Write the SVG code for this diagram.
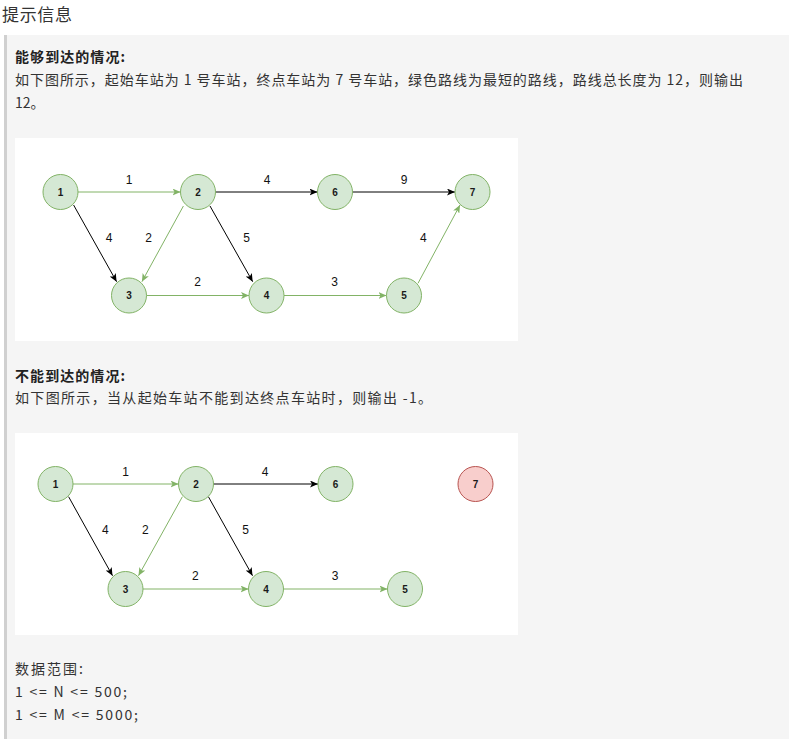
<svg xmlns="http://www.w3.org/2000/svg" width="789" height="739" viewBox="0 0 789 739">
<style>
.txt{font-family:"Noto Sans CJK SC","Liberation Sans",sans-serif;font-size:14px;fill:#333}
.bold{font-weight:bold;fill:#222}
.title{font-family:"Noto Sans CJK SC","Liberation Sans",sans-serif;font-size:17px;fill:#333}
.node circle{fill:#d5e8d4;stroke:#82b366;stroke-width:1}
.node.red circle{fill:#f8cecc;stroke:#b85450}
.node text{font-family:"Liberation Sans",Arial,sans-serif;font-size:10px;fill:#1a1a1a;text-anchor:middle;font-weight:bold}
.g{stroke:#82b366;stroke-width:1;fill:none;marker-end:url(#ag)}
.k{stroke:#000;stroke-width:1;fill:none;marker-end:url(#ak)}
.lbl{font-family:"Liberation Sans",Arial,sans-serif;font-size:12px;fill:#111;text-anchor:middle}
</style>
<defs>
<marker id="ag" viewBox="0 0 8 7" markerWidth="8" markerHeight="7" refX="8" refY="3.5" orient="auto" markerUnits="userSpaceOnUse"><path d="M0,0 L8,3.5 L0,7 L2,3.5 Z" fill="#82b366"/></marker>
<marker id="ak" viewBox="0 0 8 7" markerWidth="8" markerHeight="7" refX="8" refY="3.5" orient="auto" markerUnits="userSpaceOnUse"><path d="M0,0 L8,3.5 L0,7 L2,3.5 Z" fill="#000"/></marker>
</defs>
<rect x="0" y="0" width="789" height="739" fill="#fff"/>
<text class="title" x="2" y="21" textLength="70">提示信息</text>
<rect x="4" y="35" width="785" height="704" fill="#f5f5f5"/>
<rect x="4" y="35" width="3" height="704" fill="#d0d0d0"/>

<g id="text1">
<text class="txt bold" x="15" y="62" textLength="110">能够到达的情况:</text>
<text class="txt" x="15" y="85" textLength="728">如下图所示，起始车站为 1 号车站，终点车站为 7 号车站，绿色路线为最短的路线，路线总长度为 12，则输出</text>
<text class="txt" x="15" y="108">12。</text>
</g>

<rect x="15" y="138" width="503" height="203" fill="#fff"/>
<g id="connectors1">
<path class="g" d="M78,192 L180.5,192"/>
<path class="k" d="M215.5,192 L317.5,192"/>
<path class="k" d="M352.5,192 L455,192"/>
<path class="g" d="M146.5,295.5 L249,295.5"/>
<path class="g" d="M284,295.5 L386.5,295.5"/>
<path class="k" d="M73.6,205 L116.6,281.7"/>
<path class="g" d="M183.4,206 L141.9,281.7"/>
<path class="k" d="M210,206 L252.7,281.7"/>
<path class="g" d="M418,283.3 L460,205"/>
<text class="lbl" x="129" y="183.5">1</text>
<text class="lbl" x="267" y="183.5">4</text>
<text class="lbl" x="404" y="183.5">9</text>
<text class="lbl" x="109" y="241.5">4</text>
<text class="lbl" x="148.6" y="241.5">2</text>
<text class="lbl" x="246.6" y="241.5">5</text>
<text class="lbl" x="423.3" y="241.5">4</text>
<text class="lbl" x="197.6" y="286">2</text>
<text class="lbl" x="334.5" y="286">3</text>
</g>
<g id="d1-n1" class="node"><circle cx="60.5" cy="192" r="17.5"/><text x="60.5" y="195.6">1</text></g>
<g id="d1-n2" class="node"><circle cx="198" cy="192" r="17.5"/><text x="198" y="195.6">2</text></g>
<g id="d1-n6" class="node"><circle cx="335" cy="192" r="17.5"/><text x="335" y="195.6">6</text></g>
<g id="d1-n7" class="node"><circle cx="472.5" cy="192" r="17.5"/><text x="472.5" y="195.6">7</text></g>
<g id="d1-n3" class="node"><circle cx="129" cy="295.5" r="17.5"/><text x="129" y="299.1">3</text></g>
<g id="d1-n4" class="node"><circle cx="266.5" cy="295.5" r="17.5"/><text x="266.5" y="299.1">4</text></g>
<g id="d1-n5" class="node"><circle cx="404" cy="295.5" r="17.5"/><text x="404" y="299.1">5</text></g>

<g id="text2">
<text class="txt bold" x="15" y="381" textLength="110">不能到达的情况:</text>
<text class="txt" x="15" y="403" textLength="417">如下图所示，当从起始车站不能到达终点车站时，则输出 -1。</text>
</g>

<rect x="15" y="433" width="503" height="202" fill="#fff"/>
<g id="connectors2">
<path class="g" d="M73,484 L178.5,484"/>
<path class="k" d="M213.5,484 L318,484"/>
<path class="g" d="M143,589 L248.5,589"/>
<path class="g" d="M283.5,589 L387.5,589"/>
<path class="k" d="M68.6,496.7 L112.5,575.7"/>
<path class="g" d="M182.4,496.7 L138.5,575.7"/>
<path class="k" d="M208.4,496.7 L252.5,575.7"/>
<text class="lbl" x="125.7" y="476">1</text>
<text class="lbl" x="265" y="476">4</text>
<text class="lbl" x="105.4" y="533.5">4</text>
<text class="lbl" x="145.3" y="533.5">2</text>
<text class="lbl" x="245.6" y="533.5">5</text>
<text class="lbl" x="195.3" y="580">2</text>
<text class="lbl" x="335" y="580">3</text>
</g>
<g id="d2-n1" class="node"><circle cx="55.5" cy="484" r="17.5"/><text x="55.5" y="487.6">1</text></g>
<g id="d2-n2" class="node"><circle cx="196" cy="484" r="17.5"/><text x="196" y="487.6">2</text></g>
<g id="d2-n6" class="node"><circle cx="335.5" cy="484" r="17.5"/><text x="335.5" y="487.6">6</text></g>
<g id="d2-n7" class="node red"><circle cx="475.5" cy="484" r="17.5"/><text x="475.5" y="487.6">7</text></g>
<g id="d2-n3" class="node"><circle cx="125.5" cy="589" r="17.5"/><text x="125.5" y="592.6">3</text></g>
<g id="d2-n4" class="node"><circle cx="266" cy="589" r="17.5"/><text x="266" y="592.6">4</text></g>
<g id="d2-n5" class="node"><circle cx="405" cy="589" r="17.5"/><text x="405" y="592.6">5</text></g>

<g id="text3">
<text class="txt" x="15" y="674" textLength="68">数据范围:</text>
<text class="txt" x="15" y="697" textLength="112">1 &lt;= N &lt;= 500;</text>
<text class="txt" x="15" y="720" textLength="123">1 &lt;= M &lt;= 5000;</text>
</g>
</svg>
